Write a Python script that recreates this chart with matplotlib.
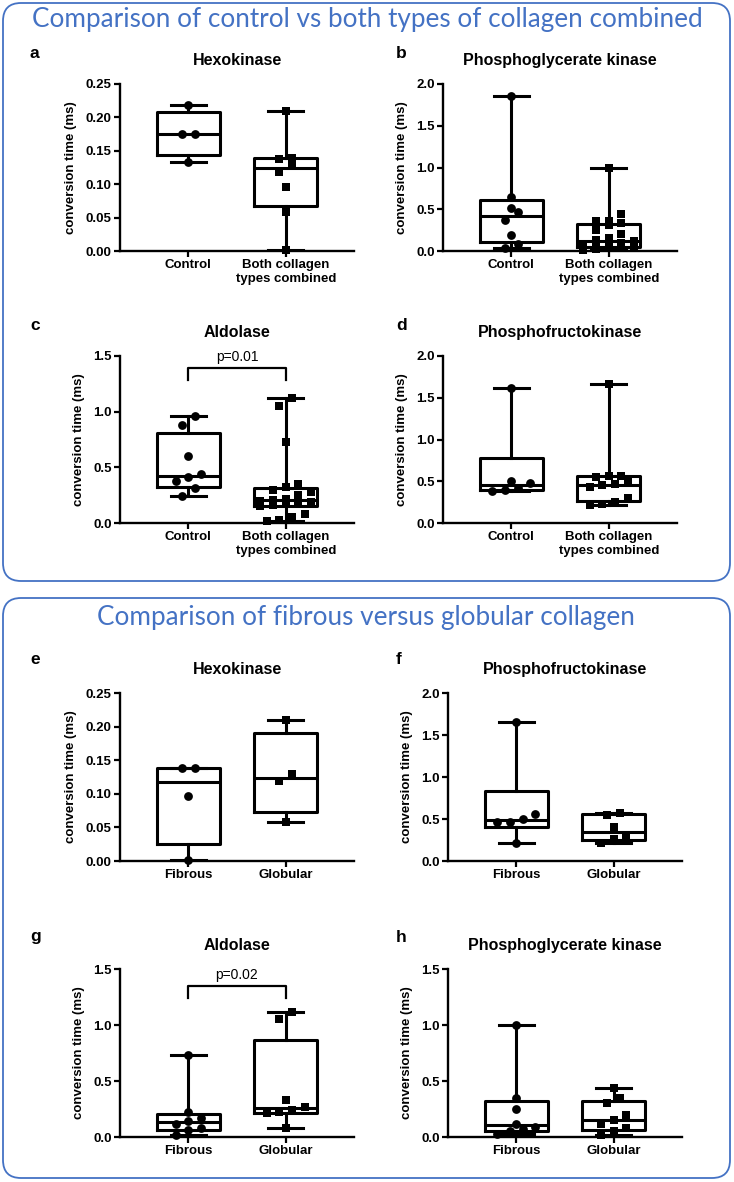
import numpy as np
import matplotlib
matplotlib.use("Agg")
import matplotlib.pyplot as plt
from matplotlib.patches import FancyBboxPatch

plt.rcParams['font.family'] = ['Liberation Sans', 'DejaVu Sans']

# ---- data (conversion time, ms) ----
ctrl_vs_comb = ["Control", "Both collagen\ntypes combined"]
fib_vs_glob = ["Fibrous", "Globular"]

hk_control = [0.133, 0.175, 0.175, 0.219]
hk_combined = [0.002, 0.058, 0.096, 0.119, 0.130, 0.137, 0.139, 0.210]

pgk_control = [0.03, 0.08, 0.19, 0.37, 0.47, 0.51, 0.65, 1.86]
pgk_combined = [0.01, 0.02, 0.03, 0.04, 0.05, 0.06, 0.08, 0.09, 0.10, 0.12,
                0.13, 0.15, 0.20, 0.25, 0.31, 0.33, 0.36, 0.36, 0.44, 1.00]

ald_control = [0.24, 0.31, 0.38, 0.41, 0.44, 0.60, 0.88, 0.96]
ald_combined = [0.02, 0.03, 0.05, 0.08, 0.15, 0.16, 0.17, 0.18, 0.19, 0.20,
                0.21, 0.22, 0.25, 0.28, 0.30, 0.32, 0.35, 0.73, 1.05, 1.12]

pfk_control = [0.38, 0.40, 0.42, 0.48, 0.50, 1.62]
pfk_combined = [0.22, 0.23, 0.25, 0.30, 0.43, 0.45, 0.47, 0.52, 0.55, 0.56, 0.56, 1.66]

hk_fibrous = [0.002, 0.096, 0.138, 0.139]
hk_globular = [0.058, 0.119, 0.129, 0.210]

pfk_fibrous = [0.22, 0.46, 0.47, 0.50, 0.56, 1.65]
pfk_globular = [0.22, 0.26, 0.30, 0.40, 0.55, 0.57]

ald_fibrous = [0.02, 0.06, 0.08, 0.12, 0.14, 0.17, 0.22, 0.73]
ald_globular = [0.08, 0.21, 0.22, 0.24, 0.27, 0.33, 1.05, 1.12]

pgk_fibrous = [0.03, 0.05, 0.07, 0.09, 0.12, 0.25, 0.35, 1.00]
pgk_globular = [0.02, 0.05, 0.08, 0.12, 0.15, 0.20, 0.30, 0.35, 0.44]

W, H = 734, 1182
BLUE = '#4472C4'


def box_stats(vals):
    # GraphPad style quartiles, whiskers min to max
    v = np.asarray(vals, dtype=float)
    q1, med, q3 = np.percentile(v, [25, 50, 75], method='weibull')
    return dict(med=med, q1=q1, q3=q3, whislo=v.min(), whishi=v.max(), fliers=[])


def swarm_x(vals, pos, thr, step=0.13, maxrow=5):
    vals = np.asarray(vals, dtype=float)
    order = np.argsort(vals)
    xs = np.zeros(len(vals))
    rows, cur = [], []
    for i in order:
        if cur and (vals[i] - vals[cur[0]] > thr or len(cur) >= maxrow):
            rows.append(cur)
            cur = []
        cur.append(i)
    rows.append(cur)
    for r in rows:
        k = len(r)
        for j, i in enumerate(r):
            xs[i] = pos + (j - (k - 1) / 2) * step
    return xs


def panel(fig, rect_px, title, groups, data, ymax, ystep, fmt, pval=None):
    left, top, width, height = rect_px
    ax = fig.add_axes([left / W, 1 - (top + height) / H, width / W, height / H])
    stats = [box_stats(d) for d in data]
    lp = dict(color='black', lw=2.2)
    ax.bxp(stats, positions=[0, 1], widths=0.65, showfliers=False,
           boxprops=lp, whiskerprops=lp, capprops=lp, medianprops=lp,
           capwidths=0.36, manage_ticks=False)
    thr = ymax * 9 / height
    for i, (d, m) in enumerate(zip(data, ['o', 's'])):
        xs = swarm_x(d, i, thr)
        ax.scatter(xs, d, marker=m, s=40 if m == 'o' else 38, color='black',
                   zorder=3, clip_on=False, linewidths=0)
    ax.set_xlim(-0.70, 1.70)
    ax.set_ylim(0, ymax)
    ticks = np.arange(0, ymax + ystep / 2, ystep)
    ax.set_yticks(ticks)
    ax.set_yticklabels([fmt.format(t) for t in ticks], fontsize=9.5, fontweight='bold')
    ax.set_xticks([0, 1])
    ax.set_xticklabels(groups, fontsize=9.5, fontweight='bold')
    ax.tick_params(width=1.6, length=4, pad=2)
    for s in ['top', 'right']:
        ax.spines[s].set_visible(False)
    for s in ['left', 'bottom']:
        ax.spines[s].set_linewidth(1.7)
    ax.set_ylabel('conversion time (ms)', fontsize=9.5, fontweight='bold', labelpad=6)
    ax.set_title(title, fontsize=11.5, fontweight='bold', pad=14)
    if pval is not None:
        text, ytop, yend = pval
        ax.plot([0, 0, 1, 1], [yend, ytop, ytop, yend], color='black', lw=1.6,
                clip_on=False)
        ax.text(0.5, ytop + 0.04, text, ha='center', va='bottom', fontsize=10,
                clip_on=False)
    return ax


fig = plt.figure(figsize=(W / 100, H / 100), dpi=100)

bg = fig.add_axes([0, 0, 1, 1])
bg.set_xlim(0, W)
bg.set_ylim(H, 0)
bg.axis('off')
bg.set_zorder(-1)
bg.add_patch(FancyBboxPatch((3, 3), 727, 578, boxstyle='round,pad=0,rounding_size=18',
                            fill=False, ec=BLUE, lw=1.3))
bg.add_patch(FancyBboxPatch((3, 598), 727, 580, boxstyle='round,pad=0,rounding_size=18',
                            fill=False, ec=BLUE, lw=1.3))
bg.text(367, 19, 'Comparison of control vs both types of collagen combined',
        ha='center', va='center', color=BLUE, fontsize=18.8, family='Lato')
bg.text(366, 617, 'Comparison of fibrous versus globular collagen',
        ha='center', va='center', color=BLUE, fontsize=18.8, family='Lato')

for letter, x, y in [('a', 30, 53), ('b', 396, 53), ('c', 30, 325), ('d', 396, 325),
                     ('e', 30, 660), ('f', 396, 660), ('g', 30, 937), ('h', 396, 937)]:
    bg.text(x, y, letter, ha='left', va='center', fontsize=12.5, fontweight='bold')

panel(fig, (120, 84, 234, 167), 'Hexokinase', ctrl_vs_comb,
      [hk_control, hk_combined], 0.25, 0.05, '{:.2f}')
panel(fig, (443, 84, 234, 167), 'Phosphoglycerate kinase', ctrl_vs_comb,
      [pgk_control, pgk_combined], 2.0, 0.5, '{:.1f}')
panel(fig, (120, 356, 234, 167), 'Aldolase', ctrl_vs_comb,
      [ald_control, ald_combined], 1.5, 0.5, '{:.1f}', pval=('p=0.01', 1.39, 1.28))
panel(fig, (443, 356, 234, 167), 'Phosphofructokinase', ctrl_vs_comb,
      [pfk_control, pfk_combined], 2.0, 0.5, '{:.1f}')

panel(fig, (120, 693, 234, 168), 'Hexokinase', fib_vs_glob,
      [hk_fibrous, hk_globular], 0.25, 0.05, '{:.2f}')
panel(fig, (448, 693, 234, 168), 'Phosphofructokinase', fib_vs_glob,
      [pfk_fibrous, pfk_globular], 2.0, 0.5, '{:.1f}')
panel(fig, (120, 969, 234, 168), 'Aldolase', fib_vs_glob,
      [ald_fibrous, ald_globular], 1.5, 0.5, '{:.1f}', pval=('p=0.02', 1.345, 1.24))
panel(fig, (448, 969, 234, 168), 'Phosphoglycerate kinase', fib_vs_glob,
      [pgk_fibrous, pgk_globular], 1.5, 0.5, '{:.1f}')

fig.savefig('out.png', dpi=100)
